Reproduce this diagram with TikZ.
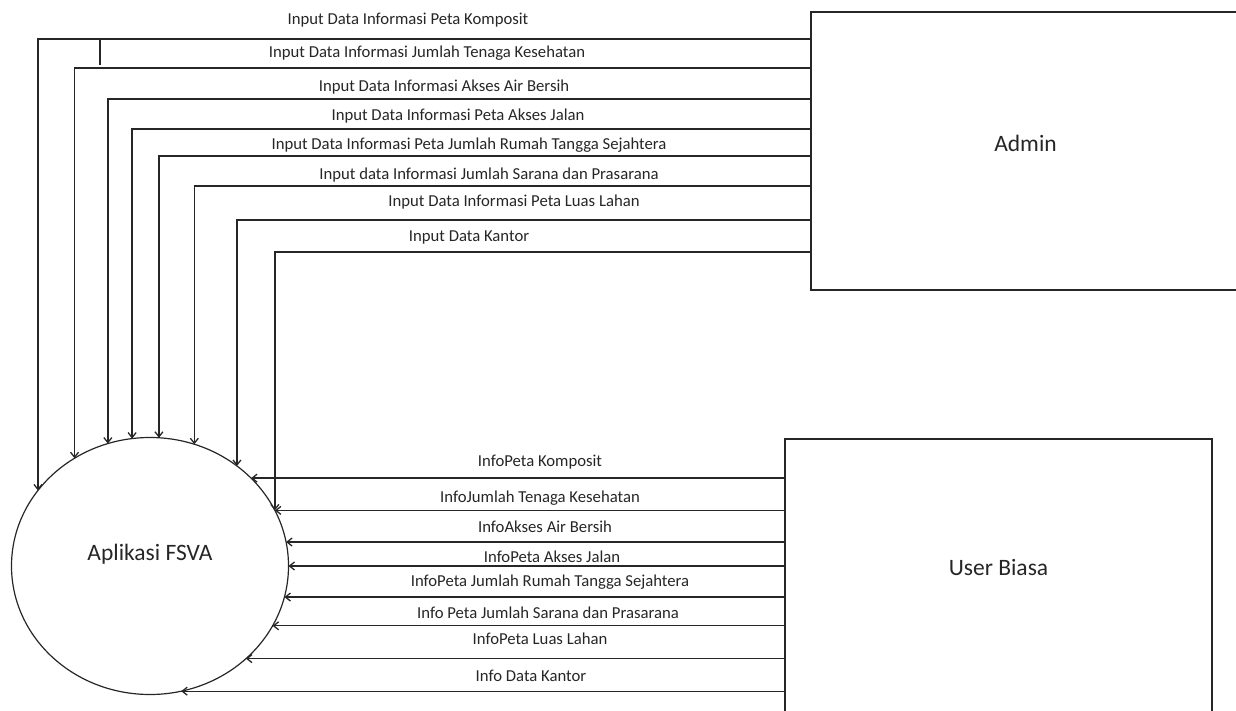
\documentclass[tikz,border=0pt]{standalone}
\usepackage{fontspec}
\setmainfont{Carlito}
\usetikzlibrary{shapes.geometric,arrows.meta}

\begin{document}
\begin{tikzpicture}[x=1pt,y=-1pt]
	\tikzstyle{ent}=[rectangle, draw=black!85, line width=1.3pt, inner sep=0pt, outer sep=0pt]
	\tikzstyle{proc}=[ellipse, draw=black!85, line width=1.2pt, minimum width=277pt, minimum height=257pt, inner sep=0pt, outer sep=0pt]
	\tikzstyle{big}=[font=\fontsize{23.5}{28}\selectfont, text=black!85]
	\tikzstyle{f}=[-{Straight Barb[length=5pt,width=8pt]}, draw=black!85, line width=1.3pt]
	\tikzstyle{lbl}=[font=\fontsize{16.7}{20}\selectfont, text=black!85, inner sep=0pt]

	\useasboundingbox (0,0) rectangle (1236,711);

	\node[ent, minimum width=429pt, minimum height=278pt, label={[big,yshift=8pt]center:Admin}] (admin) at (1025.5,151) {};
	\node[ent, minimum width=427pt, minimum height=306pt, label={[big,yshift=25pt]center:User Biasa}] (user) at (998.5,592) {};
	\node[proc, label={[big,yshift=12pt]center:Aplikasi FSVA}] (app) at (150,566) {};

	% admin -> aplikasi
	\foreach \dy/\a in {27/146.0,56/125.8,87/109.9,117/98.5,144/86.9,174/70.1,208/49.0,240/24}
	\draw [f] ([yshift=-\dy pt]admin.north west) -| (app.\a);
	\draw [draw=black!85, line width=2.2pt] (100,39) -- (100,65);

	% user -> aplikasi
	\foreach \a in {41.7,24,10.4,-0.8,-13.0,-26.1,-44.2,-76}
	\draw [f] (user.west |- app.\a) -- (app.\a);

	\foreach \x/\y/\t in {408/20/Input Data Informasi Peta Komposit,
		427/53/Input Data Informasi Jumlah Tenaga Kesehatan,
		444/87/Input Data Informasi Akses Air Bersih,
		458/116/Input Data Informasi Peta Akses Jalan,
		469/145/Input Data Informasi Peta Jumlah Rumah Tangga Sejahtera,
		489/175/Input data Informasi Jumlah Sarana dan Prasarana,
		514/202/Input Data Informasi Peta Luas Lahan,
		469/237/Input Data Kantor}
	\node[lbl] at (\x,\y) {\t};

	\foreach \x/\y/\t in {540/462/InfoPeta Komposit,
		540/498/InfoJumlah Tenaga Kesehatan,
		545/527/InfoAkses Air Bersih,
		552/557/InfoPeta Akses Jalan,
		550/582/InfoPeta Jumlah Rumah Tangga Sejahtera,
		548/613/Info Peta Jumlah Sarana dan Prasarana,
		540/639/InfoPeta Luas Lahan,
		531/676/Info Data Kantor}
	\node[lbl] at (\x,\y) {\t};
\end{tikzpicture}
\end{document}
